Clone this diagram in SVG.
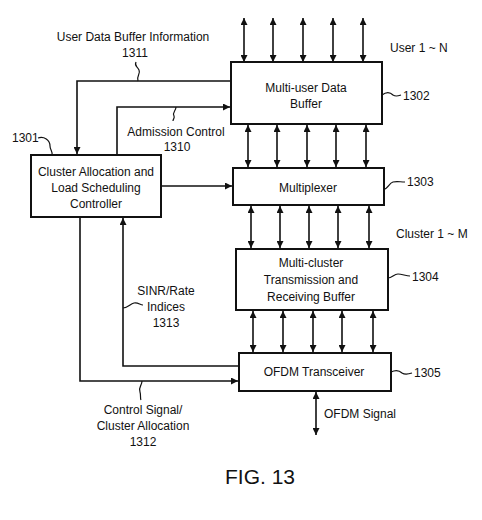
<svg xmlns="http://www.w3.org/2000/svg" width="482" height="520" viewBox="0 0 482 520">
<defs>
<style>
.box{fill:#fff;stroke:#111;stroke-width:2}
.ln{fill:none;stroke:#111;stroke-width:1.6}
.sq{fill:none;stroke:#111;stroke-width:1.2}
text{font-family:"Liberation Sans",Arial,sans-serif;font-size:12px;fill:#111}
.m{text-anchor:middle}
</style>
<marker id="ah" viewBox="0 0 10 10" refX="10" refY="5" markerWidth="7" markerHeight="7" markerUnits="userSpaceOnUse" orient="auto-start-reverse">
<path d="M0,0 L10,5 L0,10 Z" fill="#111"/>
</marker>
</defs>

<g id="connectors">
<!-- User 1~N -->
<g class="ln" marker-start="url(#ah)" marker-end="url(#ah)">
<line x1="244" y1="18" x2="244" y2="62"/>
<line x1="273" y1="18" x2="273" y2="62"/>
<line x1="303" y1="18" x2="303" y2="62"/>
<line x1="333" y1="18" x2="333" y2="62"/>
<line x1="363" y1="18" x2="363" y2="62"/>
<!-- 1302-1303 -->
<line x1="248" y1="125" x2="248" y2="167"/>
<line x1="277" y1="125" x2="277" y2="167"/>
<line x1="307" y1="125" x2="307" y2="167"/>
<line x1="336" y1="125" x2="336" y2="167"/>
<line x1="366" y1="125" x2="366" y2="167"/>
<!-- 1303-1304 -->
<line x1="251" y1="206" x2="251" y2="248"/>
<line x1="280" y1="206" x2="280" y2="248"/>
<line x1="309" y1="206" x2="309" y2="248"/>
<line x1="338" y1="206" x2="338" y2="248"/>
<line x1="369" y1="206" x2="369" y2="248"/>
<!-- 1304-1305 -->
<line x1="253" y1="311" x2="253" y2="352"/>
<line x1="283" y1="311" x2="283" y2="352"/>
<line x1="313" y1="311" x2="313" y2="352"/>
<line x1="342" y1="311" x2="342" y2="352"/>
<line x1="373" y1="311" x2="373" y2="352"/>
<!-- OFDM signal -->
<line x1="316" y1="392" x2="316" y2="435"/>
</g>
<!-- 1311 -->
<path class="ln" d="M231,81 H77 V154" marker-end="url(#ah)"/>
<!-- 1310 -->
<path class="ln" d="M117,155 V107 H230" marker-end="url(#ah)"/>
<!-- to multiplexer -->
<path class="ln" d="M161,186 H232" marker-end="url(#ah)"/>
<!-- 1312 -->
<path class="ln" d="M80,217 V381 H238" marker-end="url(#ah)"/>
<!-- 1313 -->
<path class="ln" d="M239,366 H123 V218" marker-end="url(#ah)"/>
<!-- leader squiggles -->
<path class="sq" d="M138,81 C136,76 141,74 139,70 C137,66 134,66 136,62"/>
<path class="sq" d="M176,107 C176,111 172,112 174,116 C175,118 173,119 173,121"/>
<path class="sq" d="M38,138 C44,136 50,140 50,146 C50,150 53,152 52,155"/>
<path class="sq" d="M123,308 C128,308 130,304 134,303 C138,302 140,305 143,305"/>
<path class="sq" d="M142,381 C142,386 138,387 140,392 C141,395 140,398 141,400"/>
<path class="sq" d="M382,95 C386,92 390,92 393,95 C396,97 398,96 401,95"/>
<path class="sq" d="M384,189 C388,189 389,183 393,182 C397,181 400,182 405,182"/>
<path class="sq" d="M388,278 C392,278 394,274 398,274 C402,274 406,276 410,276"/>
<path class="sq" d="M391,372 C395,370 399,370 402,373 C405,375 409,374 412,373"/>
</g>

<g id="n1301">
<rect class="box" x="31" y="155" width="130" height="62"/>
<text class="m" x="96" y="176">Cluster Allocation and</text>
<text class="m" x="96" y="192">Load Scheduling</text>
<text class="m" x="96" y="208">Controller</text>
<text x="12" y="142">1301</text>
</g>

<g id="n1302">
<rect class="box" x="231" y="62" width="151" height="62"/>
<text class="m" x="306" y="92">Multi-user Data</text>
<text class="m" x="306" y="108">Buffer</text>
<text x="403" y="100">1302</text>
</g>

<g id="n1303">
<rect class="box" x="233" y="168" width="151" height="37"/>
<text class="m" x="308" y="192">Multiplexer</text>
<text x="407" y="186">1303</text>
</g>

<g id="n1304">
<rect class="box" x="236" y="249" width="152" height="61"/>
<text class="m" x="311" y="267">Multi-cluster</text>
<text class="m" x="311" y="284">Transmission and</text>
<text class="m" x="311" y="301">Receiving Buffer</text>
<text x="412" y="281">1304</text>
</g>

<g id="n1305">
<rect class="box" x="239" y="353" width="152" height="38"/>
<text class="m" x="314" y="376">OFDM Transceiver</text>
<text x="414" y="377">1305</text>
</g>

<g id="labels">
<text class="m" x="133" y="41">User Data Buffer Information</text>
<text class="m" x="135" y="57">1311</text>
<text class="m" x="176" y="136">Admission Control</text>
<text class="m" x="177" y="151">1310</text>
<text class="m" x="166" y="295">SINR/Rate</text>
<text class="m" x="166" y="311">Indices</text>
<text class="m" x="166" y="327">1313</text>
<text class="m" x="143" y="414">Control Signal/</text>
<text class="m" x="143" y="430">Cluster Allocation</text>
<text class="m" x="143" y="446">1312</text>
<text x="390" y="52">User 1 ~ N</text>
<text x="396" y="238">Cluster 1 ~ M</text>
<text x="324" y="418">OFDM Signal</text>
<text class="m" x="260" y="484" style="font-size:21px">FIG. 13</text>
</g>
</svg>
